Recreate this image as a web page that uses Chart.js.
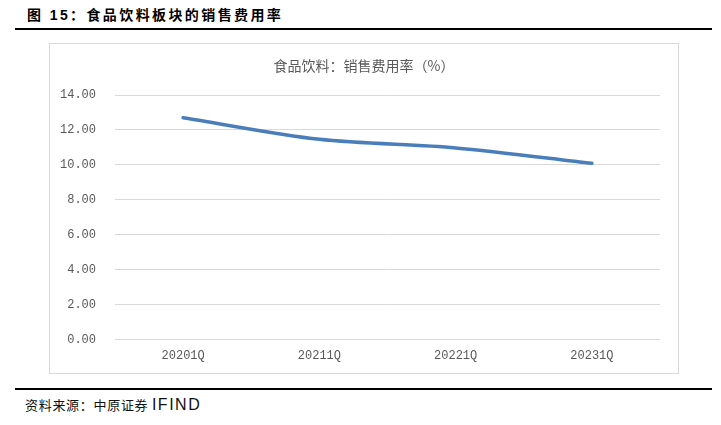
<!DOCTYPE html>
<html>
<head>
<meta charset="utf-8">
<script src="https://cdn.jsdelivr.net/npm/chart.js@4"></script>
<style>
  html, body { margin: 0; padding: 0; background: #fff; }
  body { width: 721px; height: 425px; position: relative; overflow: hidden; }
  #title { position: absolute; left: 27px; top: 5px; font-family: "Liberation Sans", "Noto Sans CJK SC", sans-serif; font-weight: bold; font-size: 14px; letter-spacing: 2.4px; color: #000; line-height: 20px; white-space: nowrap; }
  #topline { position: absolute; left: 15px; top: 28px; width: 697px; height: 2px; background: #000; }
  #box { position: absolute; left: 49px; top: 43px; width: 628px; height: 329px; border: 1px solid #d9d9d9; }
  #wrap { position: absolute; left: 49px; top: 43px; width: 630px; height: 331px; }
  #botline { position: absolute; left: 15px; top: 388px; width: 697px; height: 2px; background: #000; }
  #footer { position: absolute; left: 25px; top: 395px; font-family: "Noto Sans CJK SC", sans-serif; font-size: 13px; letter-spacing: 0.7px; color: #111; line-height: 19px; white-space: nowrap; }
  #footer span { font-family: "Liberation Sans", sans-serif; font-size: 16px; letter-spacing: 1.5px; }
</style>
</head>
<body>
<div id="title">图 15：食品饮料板块的销售费用率</div>
<div id="topline"></div>
<div id="box"></div>
<div id="wrap"><canvas id="c" width="630" height="331"></canvas></div>
<div id="botline"></div>
<div id="footer">资料来源：中原证券 <span>IFIND</span></div>
<script>
const categories = ["20201Q", "20211Q", "20221Q", "20231Q"];
const salesExpenseRate = [12.70, 11.46, 10.97, 10.09];
const yTicks = [0, 2, 4, 6, 8, 10, 12, 14];
const chartTitle = "食品饮料：销售费用率（%）";

const tickColor = "#595959";
const gridColor = "#d9d9d9";

new Chart(document.getElementById("c"), {
  type: "line",
  data: {
    labels: categories,
    datasets: [{
      label: chartTitle,
      data: salesExpenseRate,
      yAxisID: "y",
      borderColor: "#4a7ebb",
      backgroundColor: "#4a7ebb",
      borderWidth: 3.5,
      borderCapStyle: "round",
      borderJoinStyle: "round",
      pointRadius: 0,
      pointHoverRadius: 0,
      tension: 0.3,
      fill: false
    }]
  },
  options: {
    responsive: false,
    animation: false,
    devicePixelRatio: 1,
    layout: { padding: { left: 0, right: 0, top: 0, bottom: 0 } },
    plugins: {
      legend: { display: false },
      tooltip: { enabled: false },
      title: {
        display: true,
        text: chartTitle,
        color: tickColor,
        font: { family: "'Noto Sans CJK SC', sans-serif", size: 14, weight: "normal", lineHeight: 1.2 },
        padding: { top: 14.6, bottom: 20.6 }
      }
    },
    scales: {
      x: {
        offset: true,
        grid: { display: false, drawTicks: false },
        border: { display: false },
        ticks: {
          color: tickColor,
          font: { family: "'Liberation Mono', monospace", size: 12 },
          padding: 9,
          maxRotation: 0
        },
        afterFit: (s) => { s.height = 34.5; }
      },
      y: {
        position: "left",
        min: yTicks[0],
        max: yTicks[yTicks.length - 1],
        afterBuildTicks: (s) => { s.ticks = yTicks.map(v => ({ value: v })); },
        grid: { color: gridColor, lineWidth: 1, drawTicks: false },
        border: { display: false },
        ticks: {
          color: tickColor,
          font: { family: "'Liberation Mono', monospace", size: 12 },
          padding: 19,
          callback: (v) => Number(v).toFixed(2)
        },
        afterFit: (s) => { s.width = 66; }
      },
      yRightSpacer: {
        position: "right",
        display: true,
        grid: { display: false, drawTicks: false },
        border: { display: false },
        ticks: { display: false },
        afterFit: (s) => { s.width = 19; }
      }
    }
  }
});
</script>
</body>
</html>
